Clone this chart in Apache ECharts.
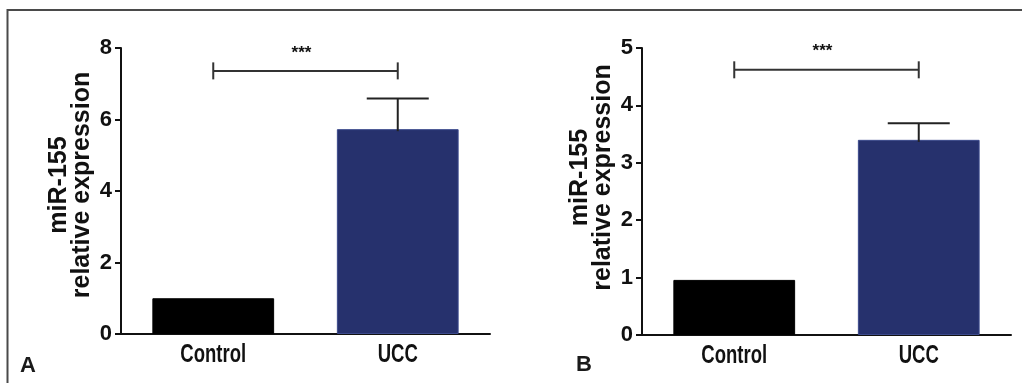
<!DOCTYPE html>
<html>
<head>
<meta charset="utf-8">
<script src="https://cdn.jsdelivr.net/npm/echarts@6/dist/echarts.min.js"></script>
<style>
html,body{margin:0;padding:0;background:#fff;}
#chart{width:1022px;height:383px;}
</style>
</head>
<body>
<div id="chart"></div>
<script>
// ---- data ----
const categories = ['Control', 'UCC'];
const valuesA = [1.0, 5.73];
const errorsA = [0, 0.86];
const valuesB = [0.96, 3.40];
const errorsB = [0, 0.29];
const bracketA = 7.36;
const bracketB = 4.62;
const sigLabel = '***';
const yTitle = 'miR-155\nrelative expression';
const panelLabels = ['A', 'B'];
const yMaxA = 8, yStepA = 2;
const yMaxB = 5, yStepB = 1;

// ---- styles ----
const barColors = ['#000000', '#26316d'];
const regular = "'Liberation Sans',Arial,sans-serif";

const chart = echarts.init(document.getElementById('chart'), null, {renderer: 'canvas'});

function xAxisCfg(gi) {
  return {
    type: 'category', gridIndex: gi, data: categories,
    axisLine: {lineStyle: {color: '#111', width: 2}},
    axisTick: {alignWithLabel: true, length: 7, lineStyle: {color: '#111', width: 2}},
    axisLabel: {show: false},
    splitLine: {show: false}
  };
}
function yAxisCfg(gi, max, step, pad) {
  return {
    type: 'value', gridIndex: gi, min: 0, max: max, interval: step,
    name: yTitle, nameLocation: 'middle', nameRotate: 90, nameGap: 27,
    nameTextStyle: {color: '#111', fontFamily: regular, fontWeight: 'bold', fontSize: 25, lineHeight: 23, padding: [0, 0, 0, pad]},
    axisLine: {show: true, lineStyle: {color: '#111', width: 2}},
    axisTick: {show: true, length: 6, lineStyle: {color: '#111', width: 2}},
    axisLabel: {color: '#111', fontFamily: regular, fontWeight: 'bold', fontSize: 22, margin: 9},
    splitLine: {show: false}
  };
}
function barSeries(gi, vals) {
  return {
    type: 'bar', xAxisIndex: gi, yAxisIndex: gi, barWidth: '66%',
    data: vals.map((v, i) => ({value: v, itemStyle: {color: barColors[i], borderColor: i ? '#3c4a8c' : '#000', borderWidth: 1}})),
    silent: true, animation: false
  };
}
// category labels drawn through the axis scale, slightly condensed like the original
function labelSeries(gi) {
  return {
    type: 'custom', xAxisIndex: gi, yAxisIndex: gi, animation: false, silent: true, z: 5,
    data: categories.map((c, i) => [i, 0]),
    renderItem: function (params, api) {
      const p = api.coord([api.value(0), api.value(1)]);
      return {
        type: 'text', x: p[0], y: p[1] + 9, scaleX: 0.74,
        style: {text: categories[params.dataIndex], fill: '#111', font: 'bold 25px ' + regular, textAlign: 'center', textVerticalAlign: 'top'}
      };
    }
  };
}
function errSeries(gi, vals, errs) {
  return {
    type: 'custom', xAxisIndex: gi, yAxisIndex: gi, animation: false, silent: true, z: 5,
    data: vals.map((v, i) => [i, v, v + errs[i]]),
    renderItem: function (params, api) {
      if (api.value(2) <= api.value(1)) return null;
      const base = api.coord([api.value(0), api.value(1)]);
      const top = api.coord([api.value(0), api.value(2)]);
      const half = 31;
      return {
        type: 'group', children: [
          {type: 'line', shape: {x1: base[0], y1: base[1] + 2, x2: top[0], y2: top[1]}, style: {stroke: '#222', lineWidth: 2}},
          {type: 'line', shape: {x1: top[0] - half, y1: top[1], x2: top[0] + half, y2: top[1]}, style: {stroke: '#222', lineWidth: 2}}
        ]
      };
    }
  };
}
function bracketSeries(gi, level) {
  return {
    type: 'custom', xAxisIndex: gi, yAxisIndex: gi, animation: false, silent: true, z: 5,
    data: [[0, 1, level]],
    renderItem: function (params, api) {
      const a = api.coord([api.value(0), api.value(2)]);
      const b = api.coord([api.value(1), api.value(2)]);
      const h = 8.5;
      return {
        type: 'group', children: [
          {type: 'line', shape: {x1: a[0], y1: a[1], x2: b[0], y2: b[1]}, style: {stroke: '#333', lineWidth: 2}},
          {type: 'line', shape: {x1: a[0], y1: a[1] - h, x2: a[0], y2: a[1] + h}, style: {stroke: '#333', lineWidth: 2}},
          {type: 'line', shape: {x1: b[0], y1: b[1] - h, x2: b[0], y2: b[1] + h}, style: {stroke: '#333', lineWidth: 2}},
          {type: 'text', x: (a[0] + b[0]) / 2 - 4, y: a[1] - 18,
           style: {text: sigLabel, fill: '#111', font: 'bold 17px ' + regular, textAlign: 'center', textVerticalAlign: 'middle'}}
        ]
      };
    }
  };
}

const option = {
  backgroundColor: '#ffffff',
  animation: false,
  grid: [
    {left: 121, top: 48, width: 369, height: 286},
    {left: 642, top: 48, width: 369, height: 287}
  ],
  xAxis: [xAxisCfg(0), xAxisCfg(1)],
  yAxis: [yAxisCfg(0, yMaxA, yStepA, 12), yAxisCfg(1, yMaxB, yStepB, 28)],
  series: [
    barSeries(0, valuesA), errSeries(0, valuesA, errorsA), bracketSeries(0, bracketA), labelSeries(0),
    barSeries(1, valuesB), errSeries(1, valuesB, errorsB), bracketSeries(1, bracketB), labelSeries(1)
  ],
  graphic: [
    {type: 'line', shape: {x1: 7, y1: 10, x2: 1022, y2: 10}, style: {stroke: '#4a4a4a', lineWidth: 2}},
    {type: 'line', shape: {x1: 7.5, y1: 9, x2: 7.5, y2: 383}, style: {stroke: '#4a4a4a', lineWidth: 2}},
    {type: 'text', left: 20, top: 355, style: {text: panelLabels[0], fill: '#1a1a1a', font: 'bold 22px ' + regular}},
    {type: 'text', left: 576, top: 354, style: {text: panelLabels[1], fill: '#1a1a1a', font: 'bold 22px ' + regular}}
  ]
};
chart.setOption(option);
</script>
</body>
</html>
